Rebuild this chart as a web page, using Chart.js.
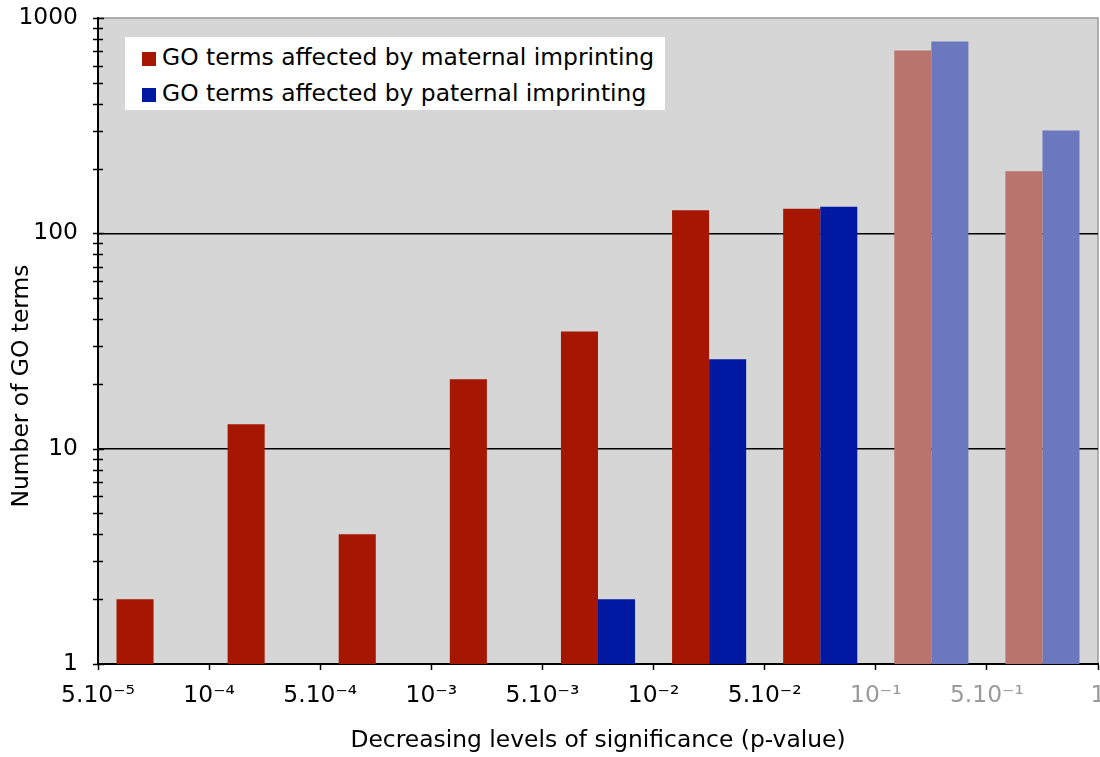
<!DOCTYPE html>
<html>
<head>
<meta charset="utf-8">
<script src="https://cdn.jsdelivr.net/npm/chart.js@4"></script>
<style>
  html, body { margin: 0; padding: 0; background: #fff; }
  #wrap { position: relative; width: 1100px; height: 757px; }
  #legend {
    position: absolute; left: 125px; top: 37px; width: 540px; height: 73px;
    background: #fff; font-family: "DejaVu Sans", sans-serif; font-size: 23.4px; color: #000;
  }
  #legend .item { position: absolute; left: 17px; height: 28px; line-height: 28px; white-space: nowrap; }
  #legend .swatch { display: inline-block; width: 14px; height: 14px; margin-right: 6px; vertical-align: -1px; }
</style>
</head>
<body>
<div id="wrap">
  <canvas id="chart"></canvas>
  <div id="legend"></div>
</div>
<script>
// p-value bin edges (tick labels sit on the bin boundaries)
const edgeLabels = ['5.10⁻⁵', '10⁻⁴', '5.10⁻⁴', '10⁻³', '5.10⁻³', '10⁻²', '5.10⁻²', '10⁻¹', '5.10⁻¹', '1'];
// one category per interval between consecutive edges
const bins = ['5.10⁻⁵–10⁻⁴', '10⁻⁴–5.10⁻⁴', '5.10⁻⁴–10⁻³', '10⁻³–5.10⁻³', '5.10⁻³–10⁻²',
              '10⁻²–5.10⁻²', '5.10⁻²–10⁻¹', '10⁻¹–5.10⁻¹', '5.10⁻¹–1'];
// number of GO terms per bin
const maternal = [2, 13, 4, 21, 35, 128, 130, 707, 194];
const paternal = [null, null, null, null, 2, 26, 133, 778, 300];
// bins from this index on are above the significance threshold
const firstNonSignificant = 7;
const yTickLabels = [1, 10, 100, 1000];

const seriesNames = ['GO terms affected by maternal imprinting', 'GO terms affected by paternal imprinting'];
const strongColors = ['#A51700', '#0019A3'];
const fadedColors = ['#B9756D', '#6B78BD'];
const plotBg = '#D6D6D6';
const FONT = '"DejaVu Sans", sans-serif';
const FS = 23.4;

const colorsFor = (k) => bins.map((_, i) => i >= firstNonSignificant ? fadedColors[k] : strongColors[k]);

const plotFrame = {
  id: 'plotFrame',
  beforeDraw(chart) {
    const { ctx, chartArea: a } = chart;
    ctx.save();
    ctx.fillStyle = plotBg;
    ctx.fillRect(a.left, a.top, a.right - a.left, a.bottom - a.top);
    ctx.strokeStyle = '#9a9a9a';
    ctx.lineWidth = 1.5;
    ctx.beginPath();
    ctx.moveTo(a.left, a.top);
    ctx.lineTo(a.right, a.top);
    ctx.lineTo(a.right, a.bottom);
    ctx.stroke();
    ctx.restore();
  },
  afterDraw(chart) {
    const { ctx, chartArea: a } = chart;
    const y = chart.scales.y;
    ctx.save();
    // major and minor ticks crossing the value axis
    ctx.strokeStyle = '#000';
    ctx.lineWidth = 1.5;
    const e0 = Math.floor(Math.log10(y.min)), e1 = Math.ceil(Math.log10(y.max));
    for (let e = e0; e <= e1; e++) {
      for (let m = 1; m <= 9; m++) {
        const v = m * Math.pow(10, e);
        if (v < y.min || v > y.max) continue;
        const py = Math.round(y.getPixelForValue(v)) + 0.5;
        const half = m === 1 ? 6 : 5;
        ctx.beginPath();
        ctx.moveTo(a.left - 5, py);
        ctx.lineTo(a.left + half, py);
        ctx.stroke();
      }
    }
    // value axis title
    ctx.fillStyle = '#000';
    ctx.font = FS + 'px ' + FONT;
    ctx.textAlign = 'center';
    ctx.textBaseline = 'middle';
    ctx.translate(22, 386);
    ctx.rotate(-Math.PI / 2);
    ctx.fillText('Number of GO terms', 0, 0);
    ctx.restore();
  }
};

const chart = new Chart(document.getElementById('chart'), {
  type: 'bar',
  data: {
    labels: bins,
    datasets: [
      { label: seriesNames[0], data: maternal, backgroundColor: colorsFor(0), borderWidth: 0 },
      { label: seriesNames[1], data: paternal, backgroundColor: colorsFor(1), borderWidth: 0 }
    ]
  },
  options: {
    responsive: true,
    maintainAspectRatio: false,
    animation: false,
    layout: { padding: { top: 18, right: 2, left: 0, bottom: 0 } },
    datasets: { bar: { categoryPercentage: 0.667, barPercentage: 1.0 } },
    plugins: { legend: { display: false }, tooltip: { enabled: false } },
    scales: {
      x: { type: 'category', display: false, offset: true },
      x2: {
        type: 'linear', position: 'bottom', min: 0, max: edgeLabels.length - 1,
        offset: false,
        afterFit: (s) => { s.height = 93; s.paddingLeft = 0; s.paddingRight = 0; },
        ticks: {
          stepSize: 1, autoSkip: false, maxRotation: 0, padding: 12,
          font: { family: FONT, size: FS },
          color: (c) => c.index >= firstNonSignificant ? '#9a9a9a' : '#000',
          callback: (v) => edgeLabels[v]
        },
        grid: { offset: false, drawOnChartArea: false, drawTicks: true, tickLength: 6, tickColor: '#000', tickWidth: 1.5 },
        border: { display: true, color: '#000', width: 2 },
        title: {
          display: true, text: 'Decreasing levels of significance (p-value)',
          font: { family: FONT, size: FS }, color: '#000', padding: { top: 0, bottom: 2 }
        }
      },
      y: {
        type: 'logarithmic', min: 1, max: 1000, z: 1,
        afterFit: (s) => { s.width = 98; s.paddingTop = 0; s.paddingBottom = 0; },
        ticks: {
          autoSkip: false, padding: 20, color: '#000',
          font: { family: FONT, size: FS },
          callback: (v) => yTickLabels.includes(v) ? String(v) : ''
        },
        grid: {
          drawTicks: false, lineWidth: 1.5,
          color: (c) => (c.tick && (c.tick.value === 10 || c.tick.value === 100)) ? '#000' : 'rgba(0,0,0,0)'
        },
        border: { display: true, color: '#000', width: 2 }
      }
    }
  },
  plugins: [plotFrame]
});

// legend box inside the plot
const legend = document.getElementById('legend');
chart.data.datasets.forEach((ds, i) => {
  const item = document.createElement('div');
  item.className = 'item';
  item.style.top = (i === 0 ? 6 : 42) + 'px';
  const sw = document.createElement('span');
  sw.className = 'swatch';
  sw.style.background = strongColors[i];
  item.appendChild(sw);
  item.appendChild(document.createTextNode(ds.label));
  legend.appendChild(item);
});
</script>
</body>
</html>
